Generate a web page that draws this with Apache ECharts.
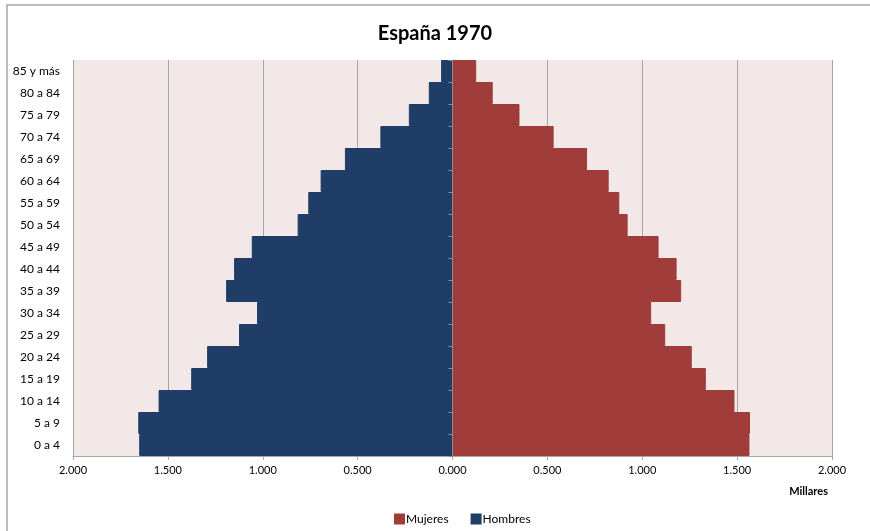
<!DOCTYPE html>
<html>
<head>
<meta charset="utf-8">
<title>España 1970</title>
<script src="https://cdn.jsdelivr.net/npm/echarts@6/dist/echarts.min.js"></script>
<style>
  html, body { margin: 0; padding: 0; background: #fff; }
  #main { width: 870px; height: 531px; }
</style>
</head>
<body>
<div id="main"></div>
<script>
// grupos de edad (de abajo arriba)
var grupos = ['0 a 4', '5 a 9', '10 a 14', '15 a 19', '20 a 24', '25 a 29', '30 a 34', '35 a 39',
  '40 a 44', '45 a 49', '50 a 54', '55 a 59', '60 a 64', '65 a 69', '70 a 74', '75 a 79', '80 a 84', '85 y más'];
// millares
var hombres = [1.651, 1.656, 1.549, 1.377, 1.293, 1.125, 1.030, 1.193,
  1.151, 1.058, 0.816, 0.760, 0.695, 0.567, 0.380, 0.230, 0.125, 0.060];
var mujeres = [1.565, 1.568, 1.486, 1.335, 1.261, 1.121, 1.047, 1.205,
  1.181, 1.086, 0.923, 0.879, 0.823, 0.709, 0.533, 0.353, 0.212, 0.125];

var fuente = 'Lato, "Open Sans", sans-serif';
var myChart = echarts.init(document.getElementById('main'));

// marcas pequeñas del eje central (cada media clase)
var marcas = [];
for (var i = 0; i < grupos.length * 2; i++) marcas.push('');

var option = {
  backgroundColor: '#fff',
  textStyle: { fontFamily: fuente },
  animation: false,
  graphic: [{
    type: 'rect',
    shape: { x: 7, y: 5, width: 900, height: 600 },
    style: { fill: 'none', stroke: '#a6a6a6', lineWidth: 1.5 },
    silent: true
  }, {
    type: 'text',
    right: 42,
    top: 486,
    style: { text: 'Millares', font: 'bold 11px ' + fuente, fill: '#000' }
  }],
  title: {
    text: 'España 1970',
    left: 'center',
    top: 19,
    textStyle: { fontFamily: fuente, fontSize: 20, fontWeight: 'bold', color: '#000' }
  },
  legend: {
    data: ['Mujeres', 'Hombres'],
    left: 389,
    top: 508,
    icon: 'rect',
    itemWidth: 9,
    itemHeight: 9,
    itemGap: 22,
    textStyle: { fontFamily: fuente, fontSize: 12, color: '#000', padding: [0, 0, 0, -3] }
  },
  grid: {
    left: 73,
    right: 38,
    top: 60,
    bottom: 75,
    show: true,
    backgroundColor: '#f2e8e7',
    borderWidth: 0
  },
  xAxis: {
    type: 'value',
    min: -2,
    max: 2,
    interval: 0.5,
    axisLine: { show: true, lineStyle: { color: '#a6a6a6' } },
    axisTick: { show: true, length: 4, lineStyle: { color: '#a6a6a6' } },
    splitLine: { show: true, lineStyle: { color: '#a6a6a6', width: 1 } },
    axisLabel: {
      margin: 9,
      fontSize: 11,
      color: '#000',
      formatter: function (v) { return Math.abs(v).toFixed(3); }
    }
  },
  yAxis: [{
    type: 'category',
    data: grupos,
    axisLine: { show: false, onZero: false },
    axisTick: { show: false },
    axisLabel: { margin: 13, fontSize: 12, color: '#000' }
  }, {
    type: 'category',
    data: marcas,
    position: 'left',
    axisLine: { show: true, onZero: true, lineStyle: { color: '#8c8c8c' } },
    axisTick: { show: true, inside: false, length: 4, lineStyle: { color: '#8c8c8c' } },
    axisLabel: { show: false },
    z: 5
  }],
  series: [{
    name: 'Mujeres',
    type: 'bar',
    stack: 'pir',
    barCategoryGap: 0,
    data: mujeres,
    itemStyle: {
      color: '#a03c3a',
      borderColor: '#a03c3a',
      borderWidth: 1
    }
  }, {
    name: 'Hombres',
    type: 'bar',
    stack: 'pir',
    barCategoryGap: 0,
    data: hombres.map(function (v) { return -v; }),
    itemStyle: {
      color: '#1f3d66',
      borderColor: '#1f3d66',
      borderWidth: 1
    }
  }]
};

myChart.setOption(option);
</script>
</body>
</html>
